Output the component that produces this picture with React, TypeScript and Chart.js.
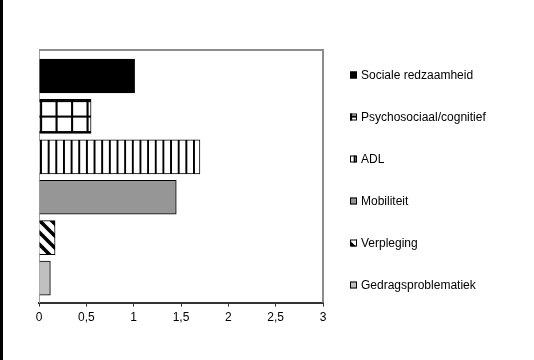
import React, { useEffect, useRef } from 'react';
import { Chart, registerables } from 'chart.js';

Chart.register(...registerables);

const categories = [
  'Sociale redzaamheid',
  'Psychosociaal/cognitief',
  'ADL',
  'Mobiliteit',
  'Verpleging',
  'Gedragsproblematiek',
];
const values = [1.01, 0.55, 1.7, 1.45, 0.17, 0.12];
const xTickLabels = ['0', '0,5', '1', '1,5', '2', '2,5', '3'];
const fillKinds = ['black', 'grid', 'vstripes', 'gray', 'diag', 'lightgray'];

const FONT = '"Liberation Sans", Arial, sans-serif';

function makeTile(w: number, h: number, draw: (c: CanvasRenderingContext2D) => void) {
  const cv = document.createElement('canvas');
  cv.width = w;
  cv.height = h;
  const c = cv.getContext('2d')!;
  c.fillStyle = '#fff';
  c.fillRect(0, 0, w, h);
  draw(c);
  return cv;
}

function makeFill(ctx: CanvasRenderingContext2D, kind: string): string | CanvasPattern {
  if (kind === 'black') return '#000000';
  if (kind === 'gray') return '#969696';
  if (kind === 'lightgray') return '#c0c0c0';
  if (kind === 'grid') {
    const t = makeTile(15, 15, (c) => {
      c.fillStyle = '#000';
      c.fillRect(0, 0, 2, 15);
      c.fillRect(0, 0, 15, 2);
    });
    const p = ctx.createPattern(t, 'repeat')!;
    p.setTransform(new DOMMatrix().translate(40, 100).scale(15.5 / 15));
    return p;
  }
  if (kind === 'vstripes') {
    const t = makeTile(8, 8, (c) => {
      c.fillStyle = '#000';
      c.fillRect(0, 0, 2, 8);
    });
    const p = ctx.createPattern(t, 'repeat')!;
    p.setTransform(new DOMMatrix().translate(40, 0).scale(7.65 / 8, 1));
    return p;
  }
  // diagonal "\" stripes
  const t = makeTile(12, 12, (c) => {
    c.strokeStyle = '#000';
    c.lineWidth = 3.6;
    for (const o of [-12, 0, 12]) {
      c.beginPath();
      c.moveTo(o - 3, -3);
      c.lineTo(o + 15, 15);
      c.stroke();
    }
  });
  const p = ctx.createPattern(t, 'repeat')!;
  p.setTransform(new DOMMatrix().translate(40, 221));
  return p;
}

export default function App() {
  const ref = useRef<HTMLCanvasElement | null>(null);

  useEffect(() => {
    const canvas = ref.current!;
    const ctx = canvas.getContext('2d')!;
    const fills = fillKinds.map((k) => makeFill(ctx, k));

    const framePlugin = {
      id: 'frame',
      beforeDatasetsDraw(chart: any) {
        const { ctx: c, chartArea: a } = chart;
        c.save();
        c.strokeStyle = '#8c8c8c';
        c.lineWidth = 2;
        c.beginPath();
        c.moveTo(a.left, a.top);
        c.lineTo(a.right, a.top);
        c.lineTo(a.right, a.bottom);
        c.stroke();
        c.restore();
      },
      afterDraw(chart: any) {
        const c = chart.ctx;
        c.save();
        c.fillStyle = '#000';
        c.fillRect(0, 0, 3, chart.height);
        c.restore();
      },
    };

    const legendPlugin = {
      id: 'sideLegend',
      afterDraw(chart: any) {
        const c = chart.ctx;
        c.save();
        c.font = `12px ${FONT}`;
        c.textBaseline = 'middle';
        c.textAlign = 'left';
        categories.forEach((label, i) => {
          const y = 75 + 42 * i;
          c.fillStyle = fills[i];
          c.fillRect(350, y - 3.5, 7, 7);
          c.strokeStyle = '#000';
          c.lineWidth = 1;
          c.strokeRect(350.5, y - 3, 6, 6);
          c.fillStyle = '#000';
          c.fillText(label, 361, y + 0.5);
        });
        c.restore();
      },
    };

    const chart = new Chart(ctx, {
      type: 'bar',
      data: {
        labels: categories,
        datasets: [
          {
            label: 'Score',
            data: values.map((v, i) => ({ x: v, y: i })) as any,
            backgroundColor: fills as any,
            borderColor: '#000',
            borderWidth: 1,
            barThickness: 34,
          },
        ],
      },
      options: {
        indexAxis: 'y',
        animation: false,
        responsive: false,
        devicePixelRatio: 1,
        layout: { padding: { left: 39, top: 50, right: 211, bottom: 31 } },
        plugins: {
          legend: { display: false },
          tooltip: { enabled: false },
        },
        scales: {
          x: {
            type: 'linear',
            min: 0,
            max: 3,
            ticks: {
              stepSize: 0.5,
              color: '#000',
              font: { family: FONT, size: 12 },
              padding: 4,
              callback: (_v: any, i: number) => xTickLabels[i],
            },
            grid: {
              display: true,
              drawOnChartArea: false,
              drawTicks: true,
              tickLength: 4,
              color: '#333',
            },
            border: { display: true, color: '#333', width: 2 },
          },
          y: {
            type: 'linear',
            reverse: true,
            offset: false,
            bounds: 'data',
            min: -0.642,
            max: 5.605,
            ticks: { display: false },
            grid: { display: false, offset: false },
            border: { display: true, color: '#a0a0a0', width: 1 },
            afterFit: (s: any) => {
              s.width = 0;
            },
          },
        },
      },
      plugins: [framePlugin, legendPlugin],
    });

    return () => chart.destroy();
  }, []);

  return (
    <canvas
      ref={ref}
      width={534}
      height={360}
      style={{ position: 'absolute', left: 0, top: 0, width: 534, height: 360, background: '#fff' }}
    />
  );
}
